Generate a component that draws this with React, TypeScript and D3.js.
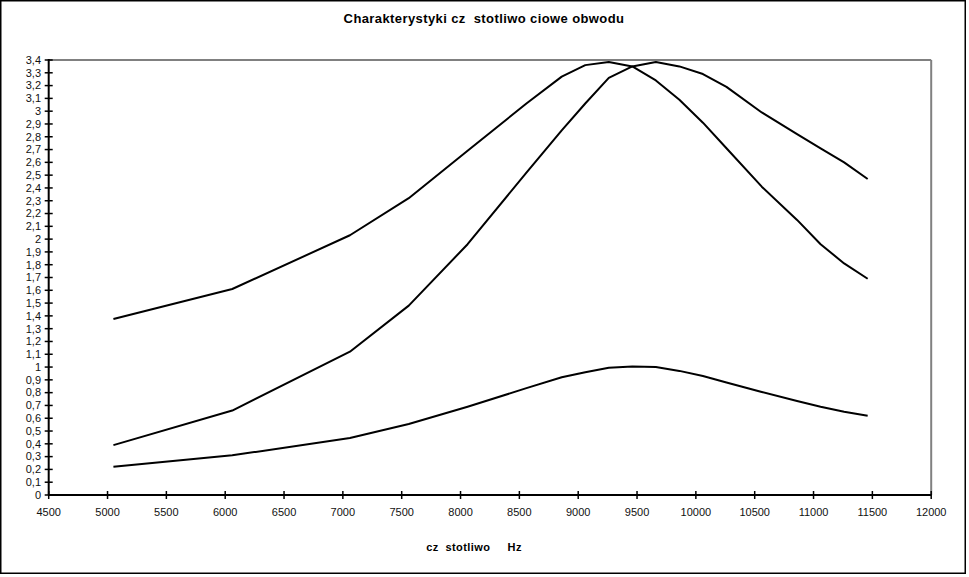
import React from "react";
import * as d3 from "d3";

// frequency [Hz] of every measurement
const freqs = [
  5050, 6060, 7060, 7560, 8060, 8560, 8860, 9060, 9260, 9460, 9660, 9860,
  10060, 10260, 10560, 10860, 11060, 11260, 11460,
];

// three response curves
const curveLow = [
  1.376, 1.61, 2.03, 2.32, 2.69, 3.06, 3.27, 3.36, 3.385, 3.35, 3.24, 3.09,
  2.91, 2.71, 2.41, 2.15, 1.96, 1.81, 1.69,
];
const curveHigh = [
  0.39, 0.66, 1.12, 1.48, 1.96, 2.52, 2.85, 3.06, 3.26, 3.35, 3.385, 3.35,
  3.29, 3.19, 2.99, 2.82, 2.71, 2.6, 2.47,
];
const curveFlat = [
  0.22, 0.31, 0.445, 0.555, 0.69, 0.835, 0.92, 0.96, 0.995, 1.005, 1.0,
  0.97, 0.93, 0.88, 0.805, 0.735, 0.69, 0.65, 0.62,
];

const xTicks = d3.range(4500, 12001, 500);
const yTicks = d3.range(0, 35).map((i) => i / 10);

const title = "Charakterystyki cz  stotliwo ciowe obwodu";
const xTitle = "cz  stotliwo     Hz";

const W = 969;
const H = 577;
const margin = { left: 48.7, top: 60, right: 37.8, bottom: 82 };

const fmtY = (v: number) => String(+v.toFixed(1)).replace(".", ",");

export default function App() {
  const x = d3
    .scaleLinear()
    .domain([4500, 12000])
    .range([margin.left, W - margin.right]);
  const y = d3
    .scaleLinear()
    .domain([0, 3.4])
    .range([H - margin.bottom, margin.top]);

  const line = d3
    .line<number>()
    .x((_, i) => x(freqs[i]))
    .y((d) => y(d));

  const font = "Liberation Sans, Arial, sans-serif";
  const x0 = x(4500);
  const x1 = x(12000);
  const y0 = y(0);
  const yTop = y(3.4);

  return (
    <div style={{ position: "fixed", left: 0, top: 0 }}>
      <svg width={W} height={H} style={{ display: "block" }}>
        <rect x={0} y={0} width={W} height={H} fill="#fff" />
        <rect
          x={0.75}
          y={0.75}
          width={964.5}
          height={572.5}
          fill="none"
          stroke="#000"
          strokeWidth={1.5}
        />

        <text
          x={484}
          y={23}
          textAnchor="middle"
          fontFamily={font}
          fontWeight="bold"
          fontSize={13}
          letterSpacing={0.4}
          style={{ whiteSpace: "pre" }}
        >
          {title}
        </text>

        {/* plot frame */}
        <line x1={x0} x2={x1} y1={yTop} y2={yTop} stroke="#808080" strokeWidth={2} />
        <line x1={x1} x2={x1} y1={yTop} y2={y0} stroke="#808080" strokeWidth={2} />

        {/* y axis */}
        <line x1={x0} x2={x0} y1={yTop - 1} y2={y0} stroke="#000" strokeWidth={2} />
        {yTicks.map((t) => (
          <g key={t}>
            <line
              x1={x0 - 4}
              x2={x0 + 4}
              y1={y(t)}
              y2={y(t)}
              stroke="#000"
              strokeWidth={1.5}
            />
            <text
              x={41}
              y={y(t)}
              dy="0.35em"
              textAnchor="end"
              fontFamily={font}
              fontSize={11}
              fill="#111"
            >
              {fmtY(t)}
            </text>
          </g>
        ))}

        {/* x axis */}
        <line x1={x0} x2={x1} y1={y0} y2={y0} stroke="#000" strokeWidth={2} />
        {xTicks.map((t) => (
          <g key={t}>
            <line
              x1={x(t)}
              x2={x(t)}
              y1={y0 - 4}
              y2={y0 + 4}
              stroke="#000"
              strokeWidth={1.5}
            />
            <text
              x={x(t)}
              y={512}
              dy="0.35em"
              textAnchor="middle"
              fontFamily={font}
              fontSize={11}
              fill="#111"
            >
              {t}
            </text>
          </g>
        ))}

        <text
          x={474}
          y={551}
          textAnchor="middle"
          fontFamily={font}
          fontWeight="bold"
          fontSize={11}
          letterSpacing={0.4}
          style={{ whiteSpace: "pre" }}
        >
          {xTitle}
        </text>

        {[curveLow, curveHigh, curveFlat].map((s, i) => (
          <path
            key={i}
            d={line(s) || ""}
            fill="none"
            stroke="#000"
            strokeWidth={2}
            strokeLinejoin="round"
          />
        ))}
      </svg>
    </div>
  );
}
